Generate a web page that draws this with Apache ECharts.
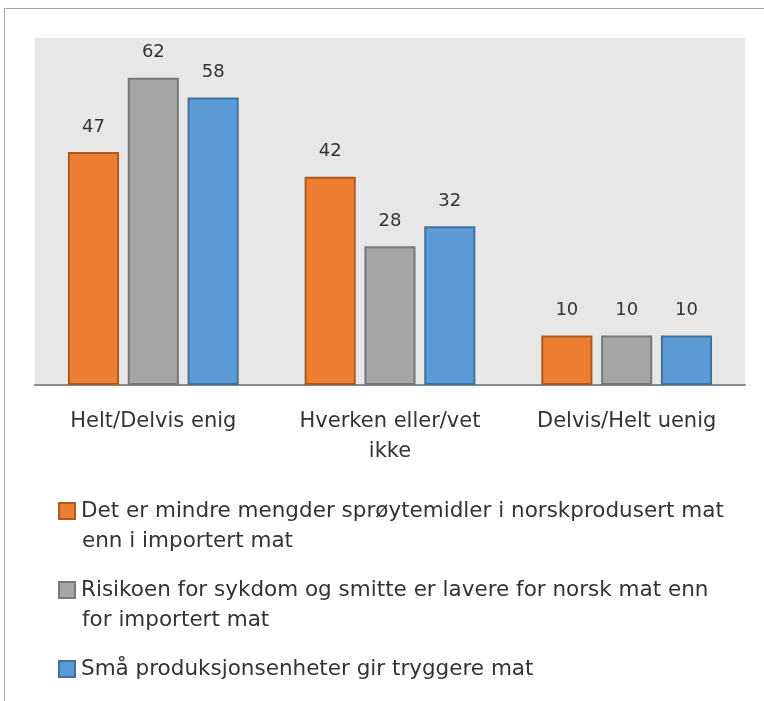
<!DOCTYPE html>
<html>
<head>
<meta charset="utf-8">
<script src="https://cdn.jsdelivr.net/npm/echarts@6/dist/echarts.min.js"></script>
<style>
  html, body { margin: 0; padding: 0; background: #fff; }
  #frame { position: absolute; left: 4px; top: 8px; width: 800px; height: 720px;
           border-left: 1px solid #a6a6a6; border-top: 1px solid #a6a6a6; }
  #chart { position: absolute; left: 0; top: 0; width: 764px; height: 701px; }
</style>
</head>
<body>
<div id="frame"></div>
<div id="chart"></div>
<script>
let categories = ['Helt/Delvis enig', 'Hverken eller/vet\nikke', 'Delvis/Helt uenig'];
let seriesNames = [
  'Det er mindre mengder sprøytemidler i norskprodusert mat\nenn i importert mat',
  'Risikoen for sykdom og smitte er lavere for norsk mat enn\nfor importert mat',
  'Små produksjonsenheter gir tryggere mat'
];
let sprayData = [47, 42, 10];
let riskData = [62, 28, 10];
let smallData = [58, 32, 10];

let fills = ['#ED7D31', '#A5A5A5', '#5B9BD5'];
let borders = ['#AE5A21', '#787878', '#41719C'];
let FONT = 'DejaVu Sans';
let TEXTCOLOR = '#333333';

let myChart = echarts.init(document.getElementById('chart'));

function makeSeries(i, data) {
  return {
    name: seriesNames[i],
    type: 'bar',
    data: data,
    barWidth: '21.6%',
    barGap: '17%',
    itemStyle: {
      color: fills[i],
      borderColor: borders[i],
      borderWidth: 2
    },
    label: {
      show: true,
      position: 'top',
      distance: 16,
      color: TEXTCOLOR,
      fontFamily: FONT,
      fontSize: 18
    }
  };
}

// legend text with a coloured box drawn as rich text so it sits on the first line
function legendText(name) {
  let idx = seriesNames.indexOf(name);
  let lines = name.split('\n');
  let out = '{m' + idx + '|}{t|' + lines[0] + '}';
  for (let k = 1; k < lines.length; k++) {
    out += '\n{s|}{t|' + lines[k] + '}';
  }
  return out;
}

let rich = {
  t: { fontFamily: FONT, fontSize: 21.5, color: TEXTCOLOR, lineHeight: 30, padding: [0, 0, 0, 7] },
  s: { width: 15, height: 12 }
};
for (let i = 0; i < 3; i++) {
  rich['m' + i] = {
    width: 14, height: 14,
    backgroundColor: fills[i],
    borderColor: borders[i],
    borderWidth: 2
  };
}

option = {
  animation: false,
  grid: {
    left: 35,
    right: 19,
    top: 38,
    bottom: 316,
    show: true,
    backgroundColor: '#E7E7E7',
    borderWidth: 0
  },
  xAxis: {
    type: 'category',
    data: categories,
    axisLine: { lineStyle: { color: '#898989', width: 2 } },
    axisTick: { show: false },
    axisLabel: {
      color: TEXTCOLOR,
      fontFamily: FONT,
      fontSize: 21,
      lineHeight: 30,
      margin: 22
    }
  },
  yAxis: {
    type: 'value',
    min: 0,
    max: 70,
    show: false,
    splitLine: { show: false }
  },
  legend: {
    orient: 'vertical',
    left: 50,
    top: 495,
    icon: 'none',
    itemWidth: 0,
    itemGap: 27,
    selectedMode: false,
    textStyle: { rich: rich },
    formatter: legendText,
    data: seriesNames
  },
  series: [
    makeSeries(0, sprayData),
    makeSeries(1, riskData),
    makeSeries(2, smallData)
  ]
};

myChart.setOption(option);
</script>
</body>
</html>
